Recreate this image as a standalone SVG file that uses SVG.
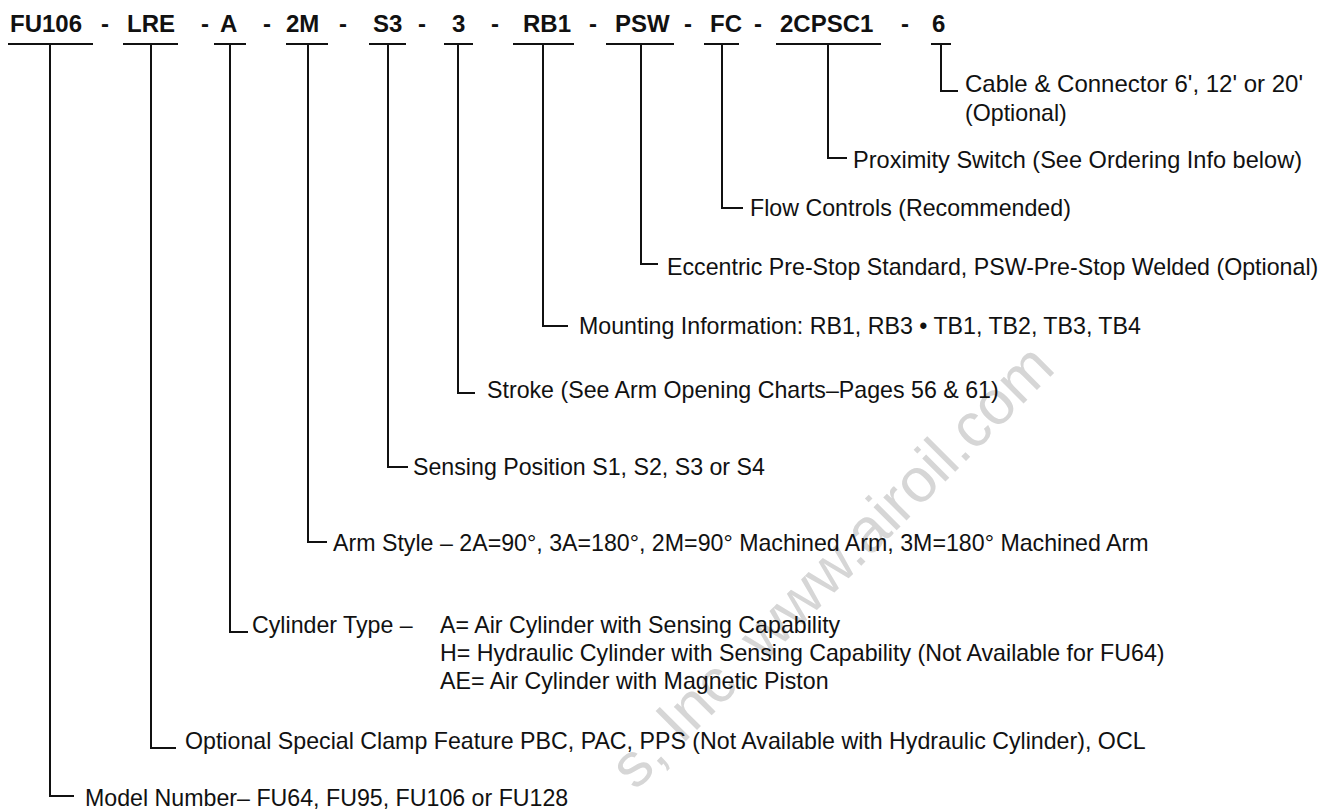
<svg xmlns="http://www.w3.org/2000/svg" width="1326" height="811" viewBox="0 0 1326 811">
<style>
.hd{font-family:"Liberation Sans",Arial,sans-serif;font-weight:bold;font-size:24px;fill:#111}
.lb{font-family:"Liberation Sans",Arial,sans-serif;font-size:23.2px;fill:#111}
.wm{font-family:"Liberation Sans",Arial,sans-serif;font-size:62px;fill:#d6d6d6}
.ln{stroke:#111;stroke-width:2;fill:none}
</style>
<rect width="1326" height="811" fill="#fff"/>
<g id="watermark" transform="translate(1057,370) rotate(-45)"><text class="wm" x="0" y="0" text-anchor="end">s, Inc. www.airoil.com</text></g>
<g id="header">
<text class="hd" x="10" y="32">FU106</text>
<text class="hd" x="127" y="32">LRE</text>
<text class="hd" x="220" y="32">A</text>
<text class="hd" x="286" y="32">2M</text>
<text class="hd" x="373" y="32">S3</text>
<text class="hd" x="452" y="32">3</text>
<text class="hd" x="523" y="32">RB1</text>
<text class="hd" x="615" y="32">PSW</text>
<text class="hd" x="710" y="32">FC</text>
<text class="hd" x="780" y="32">2CPSC1</text>
<text class="hd" x="932" y="32">6</text>
<g text-anchor="middle">
<text class="hd" x="105" y="32">-</text>
<text class="hd" x="205" y="32">-</text>
<text class="hd" x="267" y="32">-</text>
<text class="hd" x="343" y="32">-</text>
<text class="hd" x="422" y="32">-</text>
<text class="hd" x="495" y="32">-</text>
<text class="hd" x="593" y="32">-</text>
<text class="hd" x="688" y="32">-</text>
<text class="hd" x="758" y="32">-</text>
<text class="hd" x="905" y="32">-</text>
</g>
</g>
<g id="connectors" class="ln">
<path d="M8 44H93M50 44V796H74"/>
<path d="M123 44H178M151 44V748H176"/>
<path d="M214 44H246M230 44V632H248"/>
<path d="M286 44H328M308 44V542H327"/>
<path d="M369 44H406M388 44V467H408"/>
<path d="M444 44H473M458 44V393H475"/>
<path d="M513 44H574M543 44V326H568"/>
<path d="M606 44H674M641 44V264H658"/>
<path d="M704 44H739M722 44V208H743"/>
<path d="M776 44H881M828 44V158H847"/>
<path d="M931 44H951M941 44V91H958"/>
</g>
<g id="n-6"><text class="lb" x="965" y="92" textLength="338" lengthAdjust="spacingAndGlyphs">Cable &amp; Connector 6', 12' or 20'</text><text class="lb" x="965" y="121">(Optional)</text></g>
<g id="n-2cpsc1"><text class="lb" x="853" y="168" textLength="449" lengthAdjust="spacingAndGlyphs">Proximity Switch (See Ordering Info below)</text></g>
<g id="n-fc"><text class="lb" x="750" y="216">Flow Controls (Recommended)</text></g>
<g id="n-psw"><text class="lb" x="667" y="275">Eccentric Pre-Stop Standard, PSW-Pre-Stop Welded (Optional)</text></g>
<g id="n-rb1"><text class="lb" x="579" y="334">Mounting Information: RB1, RB3 • TB1, TB2, TB3, TB4</text></g>
<g id="n-3"><text class="lb" x="487" y="398">Stroke (See Arm Opening Charts–Pages 56 &amp; 61)</text></g>
<g id="n-s3"><text class="lb" x="413" y="475">Sensing Position S1, S2, S3 or S4</text></g>
<g id="n-2m"><text class="lb" x="333" y="551">Arm Style – 2A=90°, 3A=180°, 2M=90° Machined Arm, 3M=180° Machined Arm</text></g>
<g id="n-a"><text class="lb" x="252" y="633">Cylinder Type –</text>
<text class="lb" x="440" y="633">A= Air Cylinder with Sensing Capability</text>
<text class="lb" x="440" y="661">H= Hydraulic Cylinder with Sensing Capability (Not Available for FU64)</text>
<text class="lb" x="440" y="689">AE= Air Cylinder with Magnetic Piston</text></g>
<g id="n-lre"><text class="lb" x="185" y="749">Optional Special Clamp Feature PBC, PAC, PPS (Not Available with Hydraulic Cylinder), OCL</text></g>
<g id="n-fu106"><text class="lb" x="85" y="806">Model Number– FU64, FU95, FU106 or FU128</text></g>
</svg>
